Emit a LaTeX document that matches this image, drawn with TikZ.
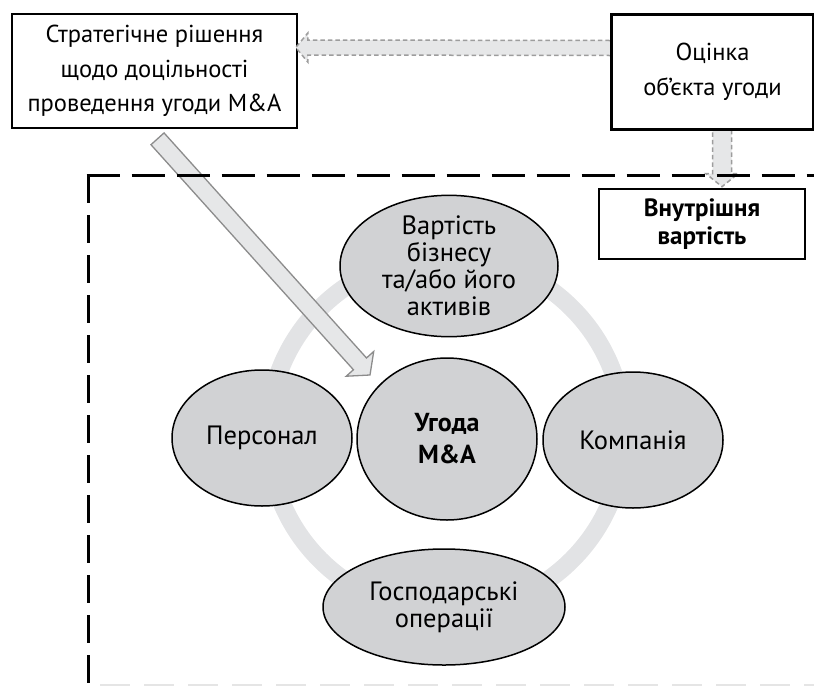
\documentclass[tikz,border=0pt]{standalone}
\usepackage{fontspec}
\setmainfont{PT Sans}
\usetikzlibrary{shapes.geometric,calc,backgrounds}
\definecolor{ringgray}{HTML}{E2E3E5}
\definecolor{ellgray}{HTML}{D1D2D4}
\definecolor{arrfill}{HTML}{E6E7E8}
\definecolor{arredge}{HTML}{8C8C8C}
\newcommand{\fatarrow}[6]{%
  \coordinate (#3-b) at ($(#3)!#6!(#2)$);
  \filldraw[#1] ($(#2)!#4!90:(#3)$) -- ($(#3-b)!#4!-90:(#2)$) -- ($(#3-b)!#5!-90:(#2)$) -- (#3) -- ($(#3-b)!#5!90:(#2)$) -- ($(#3-b)!#4!90:(#2)$) -- ($(#2)!#4!-90:(#3)$) -- cycle;
}
\begin{document}
\begin{tikzpicture}[x=1pt,y=-1pt,
  box/.style={draw,line width=1.6pt,fill=white,rectangle,align=center,inner sep=0pt},
  oval/.style={draw,line width=1.5pt,fill=ellgray,ellipse,align=center,inner sep=0pt},
  bigtext/.style={font=\fontsize{24.5}{34.5}\selectfont},
  ovaltext/.style={font=\fontsize{26.5}{27}\selectfont},
  fatgray/.style={fill=arrfill,draw=arredge,line width=1.3pt},
  dashgray/.style={fill=arrfill,draw=arredge!85,line width=1.5pt,dash pattern=on 4.5pt off 3pt}]
\useasboundingbox (0,0) rectangle (814,686);
\node at (154.5,71)[box,bigtext,minimum width=285pt,minimum height=114pt] (strat){Стратегічне рішення\\щодо доцільності\\проведення угоди M\&A};
\node at (712.5,72)[box,bigtext,minimum width=201pt,minimum height=114pt] (otsinka){Оцінка\\об’єкта угоди};
\node at (702,224)[box,font=\fontsize{25}{28}\selectfont\bfseries,minimum width=206pt,minimum height=70pt] (vnutr){Внутрішня\\вартість};
\node at (447,439)[oval,minimum width=180pt,minimum height=162pt,font=\fontsize{26}{32}\selectfont\bfseries] (ugoda){Угода\\M\&A};
\begin{pgfonlayer}{background}
\draw[ringgray,line width=18pt] (446,434) circle [radius=178pt];
\coordinate (d1) at ($(strat.south)+(3,10)$);
\coordinate (d2) at ($(ugoda.center)+(-77,-64)$);
\fatarrow{fatgray}{d1}{d2}{8.8pt}{18.5pt}{15pt}
\end{pgfonlayer}
\node at (449,266)[oval,ovaltext,minimum width=218pt,minimum height=128pt] (vartist){Вартість\\бізнесу\\та/або його\\активів};
\node at (262,438)[oval,ovaltext,minimum width=180pt,minimum height=136pt] (personal){Персонал};
\node at (633,440)[oval,ovaltext,minimum width=180pt,minimum height=136pt] (kompaniya){Компанія};
\node at (444,607)[oval,ovaltext,minimum width=242pt,minimum height=116pt] (gosp){Господарські\\операції};
% arrows from the valuation box
\coordinate (h1) at ($(otsinka.west)+(0,-24)$);
\coordinate (h2) at ($(strat.east)+(-2,-23.5)$);
\fatarrow{dashgray}{h1}{h2}{7.5pt}{14.5pt}{12pt}
\coordinate (v1) at ($(otsinka.south)+(9.5,0)$);
\coordinate (v2) at ($(vnutr.north)+(20,-1.5)$);
\fatarrow{dashgray}{v1}{v2}{9.5pt}{16pt}{13pt}
\draw[line width=1.6pt] (otsinka.south west) rectangle (otsinka.north east);
% dashed frame
\draw[line width=3pt,dash pattern=on 33pt off 12pt] (86.5,175) -- (814,175);
\draw[line width=3pt,dash pattern=on 28pt off 12pt] (88,175) -- (88,686);
\draw[gray!20,line width=2pt,dash pattern=on 30pt off 14pt] (100,685) -- (814,685);
\end{tikzpicture}
\end{document}
